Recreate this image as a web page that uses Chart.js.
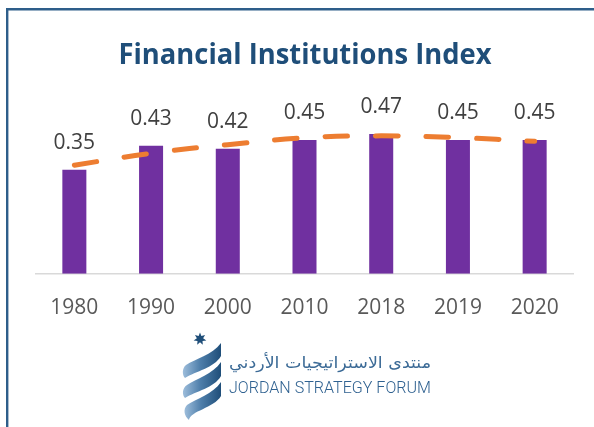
<!DOCTYPE html>
<html>
<head>
<meta charset="utf-8">
<script src="https://cdn.jsdelivr.net/npm/chart.js@4"></script>
<style>
    html, body { margin: 0; padding: 0; background: #ffffff; }
    #wrap { position: relative; width: 594px; height: 427px; overflow: hidden; }
    #chart { position: absolute; left: 0; top: 0; }
    #overlay { position: absolute; left: 0; top: 0; pointer-events: none; }
</style>
</head>
<body>
<div id="wrap">
    <canvas id="chart" width="594" height="427"></canvas>
    <svg id="overlay" width="594" height="427" xmlns="http://www.w3.org/2000/svg">
        <defs>
            <linearGradient id="ribbon" x1="0" y1="0" x2="1" y2="0">
                <stop offset="0" stop-color="#9dbddb"/>
                <stop offset="0.45" stop-color="#4f7fab"/>
                <stop offset="1" stop-color="#1f4e79"/>
            </linearGradient>
        </defs>
        <!-- 边框 -->
        <path d="M7.2 427 L7.2 9.2 L594 9.2" fill="none" stroke="#2e5e8a" stroke-width="2.4"/>
        <!-- 标题 -->
        <text x="305" y="64" text-anchor="middle" font-family="Open Sans" font-weight="700" font-size="28"
              fill="#1f4e79" textLength="373" lengthAdjust="spacingAndGlyphs">Financial Institutions Index</text>
        <!-- 标志 -->
        <polygon id="star" fill="#1f4e79"/>
        <path fill="url(#ribbon)" d="M221 343 C212 355 195 359 186 365 C182 368 182 375 185 378 C196 371 214 368 221 356 Z"/>
        <path fill="url(#ribbon)" d="M221 362 C213 374 196 379 187 385 C182 388 182 395 185 398 C196 391 214 388 221 376 Z"/>
        <path fill="url(#ribbon)" d="M221 382 C213 394 196 399 187 405 C183 409 184 416 189 420 C190 411 214 408 221 396 Z"/>
        <text x="330" y="368" text-anchor="middle" direction="rtl" font-family="DejaVu Sans" font-size="16"
              fill="#3b6a96" textLength="202" lengthAdjust="spacingAndGlyphs">منتدى الاستراتيجيات الأردني</text>
        <text x="229" y="393" font-family="Roboto" font-weight="300" font-size="17" fill="#2f6190"
              textLength="202" lengthAdjust="spacingAndGlyphs">JORDAN STRATEGY FORUM</text>
    </svg>
</div>
<script>
// ===== 数据 =====
const years = ["1980", "1990", "2000", "2010", "2018", "2019", "2020"];
const indexValues = [0.35, 0.43, 0.42, 0.45, 0.47, 0.45, 0.45];
const trendValues = [0.365, 0.405, 0.434, 0.457, 0.4635, 0.458, 0.445];

// 七角星
(function drawStar() {
    const cx = 200, cy = 339, ro = 6.5, ri = 3.2;
    const pts = [];
    for (let i = 0; i < 14; i++) {
        const r = i % 2 === 0 ? ro : ri;
        const a = -Math.PI / 2 + i * Math.PI / 7;
        pts.push((cx + r * Math.cos(a)).toFixed(2) + "," + (cy + r * Math.sin(a)).toFixed(2));
    }
    document.getElementById("star").setAttribute("points", pts.join(" "));
})();

// ===== 柱顶数值 =====
const valueLabels = {
    id: "valueLabels",
    afterDatasetsDraw(chart) {
        const meta = chart.getDatasetMeta(0);
        const ctx = chart.ctx;
        ctx.save();
        ctx.font = "21px 'Open Sans'";
        ctx.fillStyle = "#404040";
        ctx.textAlign = "center";
        ctx.textBaseline = "middle";
        meta.data.forEach((bar, i) => {
            ctx.fillText(indexValues[i].toFixed(2), bar.x, bar.y - 27);
        });
        ctx.restore();
    }
};

const ctx = document.getElementById("chart").getContext("2d");
const chart = new Chart(ctx, {
    data: {
        labels: years,
        datasets: [
            {
                type: "bar",
                data: indexValues,
                backgroundColor: "#7030a0",
                barPercentage: 0.313,
                categoryPercentage: 1,
                order: 1
            },
            {
                type: "line",
                data: trendValues,
                borderColor: "#ed7d31",
                borderWidth: 5,
                borderDash: [22.5, 28],
                borderCapStyle: "round",
                pointRadius: 0,
                tension: 0.4,
                fill: false,
                clip: false,
                order: 0
            }
        ]
    },
    options: {
        responsive: false,
        animation: false,
        layout: { padding: { left: 36, right: 21, top: 125, bottom: 84 } },
        plugins: { legend: { display: false }, tooltip: { enabled: false } },
        scales: {
            x: {
                grid: { display: false, drawTicks: false },
                border: { display: true, color: "#d9d9d9", width: 1.5 },
                ticks: { color: "#595959", font: { family: "Open Sans", size: 21 }, padding: 22 }
            },
            y: { display: false, min: 0, max: 0.5 }
        }
    },
    plugins: [valueLabels]
});
</script>
</body>
</html>
